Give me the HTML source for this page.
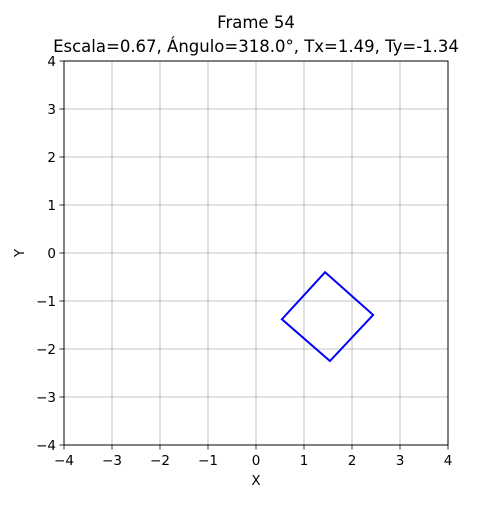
<!DOCTYPE html>
<html><head><meta charset="utf-8"><style>
body{margin:0;background:#fff;}
svg text{font-family:"DejaVu Sans","Liberation Sans",sans-serif;fill:#000;}
</style></head><body>
<svg id="chart" width="500" height="500" xmlns="http://www.w3.org/2000/svg">
<rect width="500" height="500" fill="#fff"/>
<text x="256" y="28" font-size="16.5" text-anchor="middle">Frame 54</text>
<text x="256" y="52" font-size="16.5" text-anchor="middle">Escala=0.67, Ángulo=318.0°, Tx=1.49, Ty=-1.34</text>
<g id="grid"></g>
<g id="ticks"></g>
<rect x="64" y="61" width="384" height="384" fill="none" stroke="#000" stroke-width="1"/>
<text x="256" y="485" font-size="13.5" text-anchor="middle">X</text>
<text x="24" y="253" font-size="13.5" text-anchor="middle" transform="rotate(-90 24 253)">Y</text>
</svg>
<script>
const xTicks=[-4,-3,-2,-1,0,1,2,3,4];
const yTicks=[-4,-3,-2,-1,0,1,2,3,4];
const squareX=[1.44,2.44,1.54,0.54];
const squareY=[-0.40,-1.29,-2.25,-1.38];
const NS="http://www.w3.org/2000/svg";
function sx(v){return 64+(v+4)*48;}
function sy(v){return 445-(v+4)*48;}
const svg=document.getElementById('chart');
const grid=document.getElementById('grid');
const ticks=document.getElementById('ticks');
function mk(tag,attrs,parent){const e=document.createElementNS(NS,tag);for(const k in attrs)e.setAttribute(k,attrs[k]);parent.appendChild(e);return e;}
function lab(v){return v<0?'\u2212'+Math.abs(v):String(v);}
xTicks.forEach(v=>{
  const g=mk('line',{x1:sx(v),x2:sx(v),y1:61,y2:445,stroke:'#b0b0b0','stroke-width':0.8},grid);
  
  
  const t=mk('line',{x1:sx(v),x2:sx(v),y1:445,y2:449.5,stroke:'#000','stroke-width':0.8},ticks);
  
  
  const l=mk('text',{x:sx(v),y:465,'font-size':13.5,'text-anchor':'middle'},ticks);
  l.textContent=lab(v);
  
  
});
yTicks.forEach(v=>{
  const g=mk('line',{x1:64,x2:448,y1:sy(v),y2:sy(v),stroke:'#b0b0b0','stroke-width':0.8},grid);
  
  
  const t=mk('line',{x1:59.5,x2:64,y1:sy(v),y2:sy(v),stroke:'#000','stroke-width':0.8},ticks);
  
  
  const l=mk('text',{x:56,y:sy(v)+5,'font-size':13.5,'text-anchor':'end'},ticks);
  l.textContent=lab(v);
  
  
});
const pts=squareX.map((x,i)=>sx(x)+','+sy(squareY[i])).join(' ');
const poly=mk('polygon',{points:pts,fill:'none',stroke:'#0000ff','stroke-width':2},svg);


</script>
</body></html>
